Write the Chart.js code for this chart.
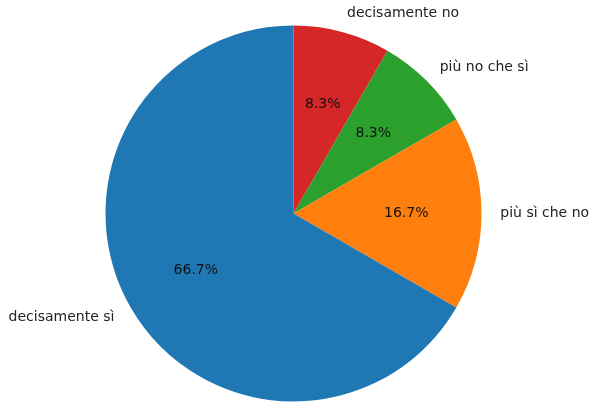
<!DOCTYPE html>
<html>
<head>
<meta charset="utf-8">
<script src="https://cdn.jsdelivr.net/npm/chart.js@4.4.0/dist/chart.umd.min.js"></script>
<style>
  html, body { margin: 0; padding: 0; background: #fff; }
  canvas { display: block; }
</style>
</head>
<body>
<canvas id="pie" width="590" height="403"></canvas>
<script>
// Dati (ordine orario a partire dall'alto)
const categorie = ["decisamente no", "più no che sì", "più sì che no", "decisamente sì"];
const valori = [1, 1, 2, 8];
const percentuali = ["8.3%", "8.3%", "16.7%", "66.7%"];
const colori = ["#d62728", "#2ca02c", "#ff7f0e", "#1f77b4"];

// Etichette stile matplotlib: nome a 1.1 r, percentuale a 0.6 r
const etichettePlugin = {
  id: 'etichette',
  afterDatasetsDraw(chart) {
    const ctx = chart.ctx;
    const arcs = chart.getDatasetMeta(0).data;
    ctx.save();
    ctx.font = '14px "DejaVu Sans"';
    arcs.forEach((arc, i) => {
      const p = arc.getProps(['x', 'y', 'startAngle', 'endAngle', 'outerRadius'], true);
      const mid = (p.startAngle + p.endAngle) / 2;
      const cx = Math.cos(mid), cy = Math.sin(mid);

      // percentuale
      ctx.fillStyle = '#111';
      ctx.textAlign = 'center';
      ctx.textBaseline = 'middle';
      ctx.fillText(percentuali[i], p.x + cx * p.outerRadius * 0.6, p.y + cy * p.outerRadius * 0.6);

      // nome categoria
      ctx.fillStyle = '#222';
      ctx.textAlign = cx >= 0 ? 'left' : 'right';
      ctx.fillText(categorie[i], p.x + cx * p.outerRadius * 1.1, p.y + cy * p.outerRadius * 1.1);
    });
    ctx.restore();
  }
};

new Chart(document.getElementById('pie'), {
  type: 'pie',
  data: {
    labels: categorie,
    datasets: [{
      data: valori,
      backgroundColor: colori,
      borderWidth: 0
    }]
  },
  options: {
    responsive: false,
    animation: false,
    layout: { padding: { top: 25.5, bottom: 1.5, left: 105.5, right: 108.5 } },
    plugins: {
      legend: { display: false },
      tooltip: { enabled: false }
    }
  },
  plugins: [etichettePlugin]
});
</script>
</body>
</html>
